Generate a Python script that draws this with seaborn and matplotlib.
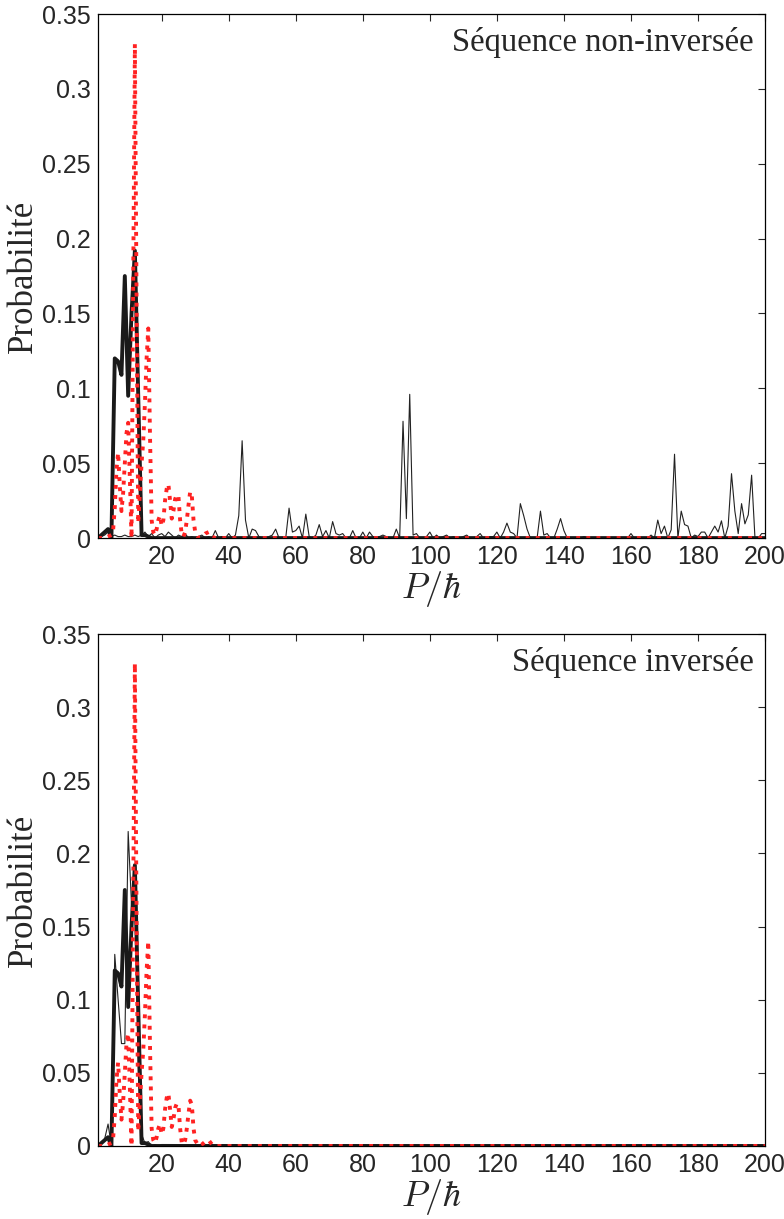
import numpy as np
import pandas as pd
import matplotlib
matplotlib.use('Agg')
import matplotlib.pyplot as plt
import seaborn as sns

sns.set_style('white')
plt.rcParams['font.family'] = ['Liberation Sans', 'DejaVu Sans']
plt.rcParams['mathtext.fontset'] = 'cm'

# thin line, "non-inversée" sequence, P = 1..200
p_thin = list(range(1, 201))
thin_top = [
    0, 0.001, 0.002, 0.004, 0.001, 0.002, 0.001, 0.001, 0.002, 0.001,
    0.001, 0.002, 0.001, 0.002, 0.004, 0.001, 0.003, 0, 0.002, 0.003,
    0.001, 0.004, 0.002, 0, 0.002, 0.001, 0.003, 0, 0.001, 0,
    0.001, 0.002, 0, 0.001, 0, 0.005, 0, 0.001, 0, 0.003,
    0, 0.002, 0.015, 0.065, 0.012, 0, 0.006, 0.005, 0.001, 0,
    0, 0.001, 0.002, 0.006, 0, 0, 0, 0.020, 0.004, 0.005,
    0.008, 0, 0.016, 0.001, 0, 0.002, 0.009, 0.001, 0.005, 0,
    0.011, 0.003, 0.002, 0.003, 0, 0, 0.005, 0, 0, 0.004,
    0, 0.004, 0.001, 0, 0.001, 0.002, 0.001, 0, 0, 0.006,
    0, 0.078, 0.013, 0.096, 0.002, 0.003, 0, 0, 0.001, 0.004,
    0, 0.002, 0, 0.001, 0.002, 0, 0.001, 0, 0, 0.001,
    0.002, 0, 0, 0.001, 0.003, 0, 0, 0.001, 0.001, 0.004,
    0, 0.004, 0.010, 0.004, 0.003, 0, 0.023, 0.015, 0.006, 0,
    0, 0, 0.018, 0.002, 0.003, 0, 0, 0.006, 0.013, 0.005,
    0, 0, 0, 0, 0, 0.001, 0, 0, 0, 0,
    0, 0, 0, 0, 0, 0, 0, 0, 0, 0.003,
    0, 0, 0, 0, 0, 0.002, 0, 0.012, 0.003, 0.008,
    0, 0.0055, 0.056, 0, 0.018, 0.009, 0.008, 0, 0.002, 0.001,
    0.004, 0.004, 0, 0.004, 0.008, 0.004, 0.0115, 0, 0.008, 0.043,
    0.018, 0.003, 0.023, 0.0095, 0.0155, 0.042, 0, 0, 0.003, 0.003,
]

# thin line, "inversée" sequence
p_thin_inv = list(range(1, 21)) + [200]
thin_bottom = [0, 0.002, 0.005, 0.015, 0, 0.131, 0.100, 0.070, 0.070, 0.215,
               0.165, 0.190, 0.050, 0.008, 0.002, 0.003, 0, 0.001, 0, 0.001, 0]

# thick line (same in both panels)
p_thick = list(range(1, 21)) + [200]
thick = [0, 0.002, 0.004, 0.006, 0, 0.120, 0.118, 0.109, 0.175, 0.095,
         0.150, 0.192, 0.095, 0.002, 0.002, 0.001, 0, 0, 0, 0, 0]

# red dotted line (same in both panels)
p_red = [1, 2, 3, 4, 5, 5.5, 6, 6.5, 7, 7.5, 8, 8.5, 9, 9.5, 10, 10.5, 11, 11.5,
         12, 12.5, 13, 13.5, 14, 14.5, 15, 15.5, 16, 16.5, 17, 17.5, 18, 18.5,
         19, 19.5, 20, 20.5, 21, 21.5, 22, 22.5, 23, 23.5, 24, 24.5, 25, 25.5,
         26, 26.5, 27, 27.5, 28, 28.5, 29, 29.5, 30, 31, 32, 33, 34, 35, 36, 200]
red = [0, 0, 0, 0.001, 0.002, 0.005, 0.020, 0.045, 0.057, 0.035, 0.018, 0.030,
       0.050, 0.070, 0.077, 0.040, 0, 0.170, 0.330, 0.160, 0.010, 0.030, 0.050,
       0.065, 0.090, 0.120, 0.140, 0.070, 0.012, 0.004, 0.002, 0.006, 0.012,
       0.015, 0.008, 0.012, 0.025, 0.033, 0.036, 0.025, 0.013, 0.018, 0.026,
       0.029, 0.028, 0.012, 0.002, 0.001, 0.004, 0.012, 0.022, 0.031, 0.028,
       0.012, 0.004, 0, 0.001, 0.003, 0.004, 0.001, 0, 0]

panel_titles = ['Séquence non-inversée', 'Séquence inversée']
yticks = [0, 0.05, 0.1, 0.15, 0.2, 0.25, 0.3, 0.35]
ytick_labels = ['0', '0.05', '0.1', '0.15', '0.2', '0.25', '0.3', '0.35']
xticks = [20, 40, 60, 80, 100, 120, 140, 160, 180, 200]

fig = plt.figure(figsize=(7.84, 12.19), dpi=100)
ax1 = fig.add_axes([0.125, 0.5586, 0.8508, 0.4299])
ax2 = fig.add_axes([0.125, 0.0599, 0.8508, 0.42])

panels = [(ax1, p_thin, thin_top), (ax2, p_thin_inv, thin_bottom)]
for i, (ax, px, py) in enumerate(panels):
    sns.lineplot(x=px, y=py, ax=ax, color='#222222', lw=0.8, estimator=None)
    sns.lineplot(x=p_thick, y=thick, ax=ax, color='#1a1a1a', lw=2.8, estimator=None)
    sns.lineplot(x=p_red, y=red, ax=ax, color='#ff2222', lw=2.8,
                 linestyle=(0, (1, 1.6)), estimator=None)
    ax.set_xlim(1, 200)
    ax.set_ylim(0, 0.35)
    ax.set_xticks(xticks)
    ax.set_yticks(yticks)
    ax.set_yticklabels(ytick_labels)
    ax.tick_params(direction='in', top=True, right=True, length=5,
                   labelsize=18, pad=5)
    for s in ax.spines.values():
        s.set_linewidth(0.9)
        s.set_color('black')
    ax.set_ylabel('Probabilité', family='Liberation Serif', fontsize=25, labelpad=2)
    ax.set_xlabel(r'$P/\hbar$', fontsize=26, labelpad=0)
    ax.text(0.983, 0.975, panel_titles[i], transform=ax.transAxes, ha='right',
            va='top', family='Liberation Serif', fontsize=23.5)

fig.savefig('out.png', dpi=100)
